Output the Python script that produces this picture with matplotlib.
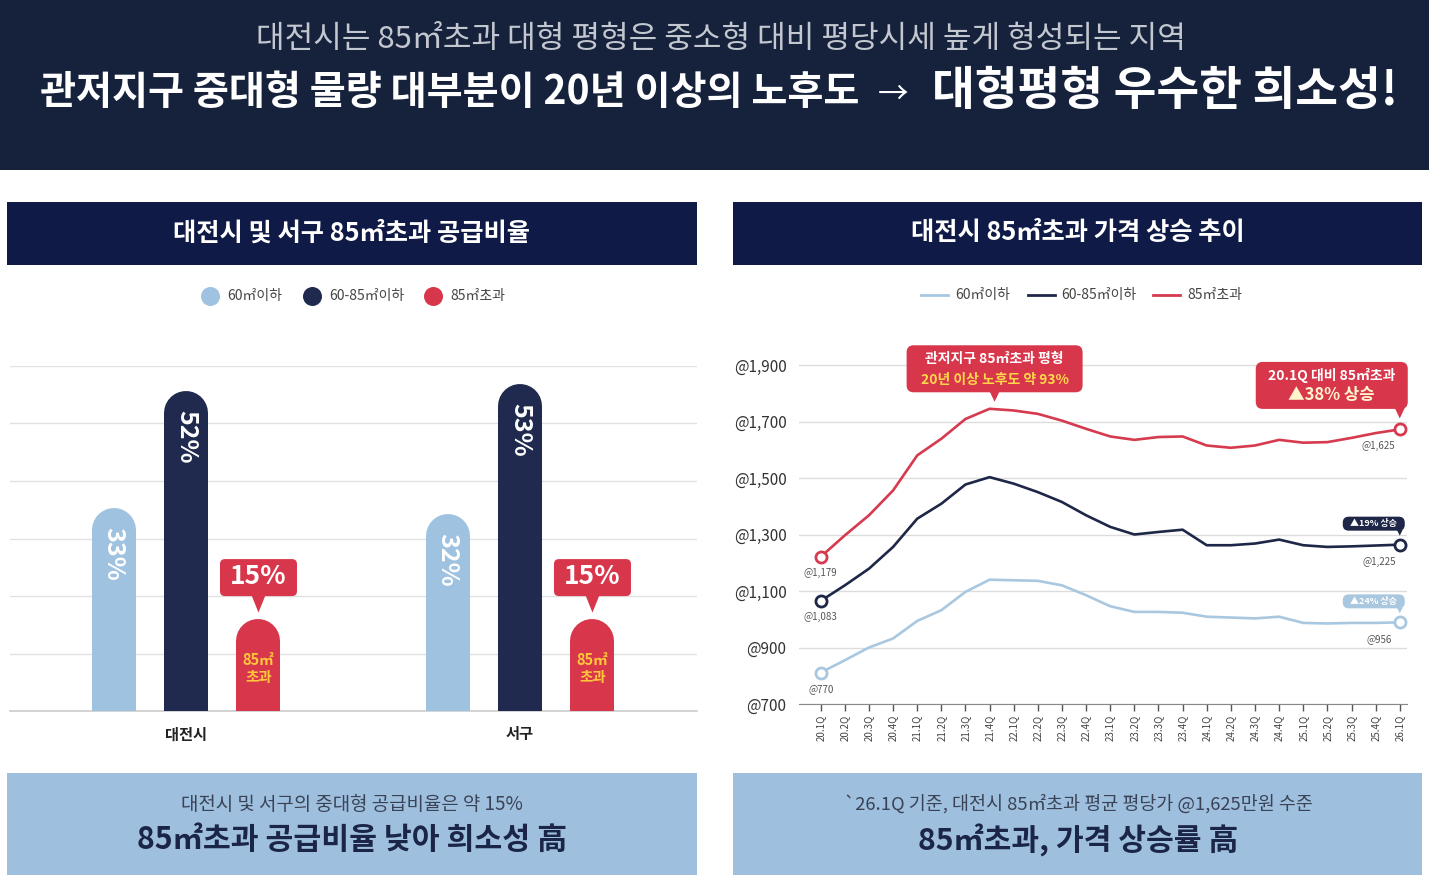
import numpy as np
import matplotlib
matplotlib.use('Agg')
import matplotlib.pyplot as plt
from matplotlib.patches import Rectangle, FancyBboxPatch, Polygon

plt.rcParams['font.family'] = ['Noto Sans CJK KR', 'DejaVu Sans']

# ---------------- data ----------------
regions = ['대전시', '서구']
share_names = ['60㎡이하', '60-85㎡이하', '85㎡초과']
share_small = [33, 32]
share_mid = [52, 53]
share_large = [15, 15]

quarters = ['20.1Q', '20.2Q', '20.3Q', '20.4Q', '21.1Q', '21.2Q', '21.3Q', '21.4Q',
            '22.1Q', '22.2Q', '22.3Q', '22.4Q', '23.1Q', '23.2Q', '23.3Q', '23.4Q',
            '24.1Q', '24.2Q', '24.3Q', '24.4Q', '25.1Q', '25.2Q', '25.3Q', '25.4Q', '26.1Q']
price_small = [811, 855, 900, 932, 994, 1032, 1097, 1140, 1138, 1136, 1120, 1085, 1046,
               1026, 1026, 1023, 1009, 1006, 1003, 1009, 987, 985, 987, 987, 989]
price_mid = [1065, 1120, 1179, 1256, 1356, 1409, 1477, 1503, 1480, 1450, 1415, 1368, 1327,
             1300, 1309, 1317, 1262, 1262, 1268, 1282, 1262, 1256, 1258, 1261, 1264]
price_large = [1221, 1297, 1368, 1456, 1580, 1639, 1709, 1745, 1739, 1727, 1703, 1674, 1647,
               1635, 1645, 1647, 1615, 1607, 1615, 1635, 1625, 1627, 1642, 1659, 1672]
start_labels = ['@770', '@1,083', '@1,179']
end_labels = ['@956', '@1,225', '@1,625']
rise_labels = ['▲24% 상승', '▲19% 상승', '▲38% 상승']
price_ticks = [700, 900, 1100, 1300, 1500, 1700, 1900]
price_tick_labels = ['@700', '@900', '@1,100', '@1,300', '@1,500', '@1,700', '@1,900']

# ---------------- style ----------------
C_LIGHT = '#9fc2e0'
C_NAVY = '#1f2a4e'
C_RED = '#d8364b'
C_LINE_LIGHT = '#a9c8e0'
C_LINE_NAVY = '#1e2747'
C_LINE_RED = '#d63a4e'
C_BANNER = '#16223c'
C_HEAD = '#0f1a46'
C_FOOT = '#9ebfdd'

W, H = 1429, 885
fig = plt.figure(figsize=(W / 100, H / 100), dpi=100)


def rect(x0, y0, x1, y1):
    return [x0 / W, 1 - y1 / H, (x1 - x0) / W, (y1 - y0) / H]


def to_px(ax, x, y):
    dx, dy = ax.transData.transform((x, y))
    return dx, H - dy


# ---------------- background ----------------
bg = fig.add_axes([0, 0, 1, 1])
bg.set_xlim(0, W); bg.set_ylim(H, 0); bg.axis('off')
bg.add_patch(Rectangle((0, 0), W, 170, color=C_BANNER, lw=0))
bg.add_patch(Rectangle((7, 202), 690, 63, color=C_HEAD, lw=0))
bg.add_patch(Rectangle((733, 202), 689, 63, color=C_HEAD, lw=0))
bg.add_patch(Rectangle((7, 773), 690, 102, color=C_FOOT, lw=0))
bg.add_patch(Rectangle((733, 773), 689, 102, color=C_FOOT, lw=0))

bg.text(721, 40, '대전시는 85㎡초과 대형 평형은 중소형 대비 평당시세 높게 형성되는 지역',
        ha='center', va='center', fontsize=22.4, color='#c3c7cf', fontweight='light')
bg.text(40, 93, '관저지구 중대형 물량 대부분이 20년 이상의 노후도', ha='left', va='center',
        fontsize=28.2, color='white', fontweight='bold')
bg.text(893, 95, '→', ha='center', va='center', fontsize=22, color='white')
bg.text(1398, 91, '대형평형 우수한 희소성!', ha='right', va='center',
        fontsize=33.5, color='white', fontweight='bold')

bg.text(352, 233, '대전시 및 서구 85㎡초과 공급비율', ha='center', va='center',
        fontsize=18.2, color='white', fontweight='bold')
bg.text(1078, 233, '대전시 85㎡초과 가격 상승 추이', ha='center', va='center',
        fontsize=18.2, color='white', fontweight='bold')

bg.text(352, 804, '대전시 및 서구의 중대형 공급비율은 약 15%', ha='center', va='center',
        fontsize=13.6, color='#3a4356')
bg.text(352, 840, '85㎡초과 공급비율 낮아 희소성 高', ha='center', va='center',
        fontsize=21.8, color='#1b2548', fontweight='bold')
bg.text(1078, 804, '`26.1Q 기준, 대전시 85㎡초과 평균 평당가 @1,625만원 수준', ha='center',
        va='center', fontsize=13.3, color='#3a4356')
bg.text(1078, 840, '85㎡초과, 가격 상승률 高', ha='center', va='center',
        fontsize=21.7, color='#1b2548', fontweight='bold')

# legends
for cx, tx, name, c in zip([210, 312, 433], [227, 329, 450], share_names,
                           [C_LIGHT, C_NAVY, C_RED]):
    bg.scatter([cx], [296], s=(19 * 0.72) ** 2, color=c, lw=0)
    bg.text(tx, 296, name, ha='left', va='center', fontsize=10, color='#444444')
for lx, tx, name, c in zip([921, 1028, 1153], [955, 1061, 1187], share_names,
                           [C_LINE_LIGHT, C_LINE_NAVY, C_LINE_RED]):
    bg.plot([lx, lx + 27], [295, 295], color=c, lw=2)
    bg.text(tx, 295, name, ha='left', va='center', fontsize=10, color='#444444')

# ---------------- bar chart ----------------
axb = fig.add_axes(rect(10, 366, 697, 711))
axb.set_facecolor('none')
ymax = 56
axb.set_ylim(0, ymax)
axb.set_xlim(-0.527, 1.530)
axb.set_yticks(np.linspace(0, ymax, 7))
axb.set_yticklabels([])
axb.grid(axis='y', color='#e1e1e1', lw=1)
axb.set_axisbelow(True)
for s in ['top', 'right', 'left']:
    axb.spines[s].set_visible(False)
axb.spines['bottom'].set_color('#cccccc')
axb.spines['bottom'].set_linewidth(1.2)
axb.tick_params(axis='y', length=0)
axb.tick_params(axis='x', length=0, pad=11)
axb.set_xticks(range(len(regions)))
axb.set_xticklabels(regions, fontsize=11, fontweight='bold', color='#222222')

bar_px = 44
px_per_unit = 345 / ymax
r_data = (bar_px / 2) / px_per_unit
offsets = [-0.217, 0, 0.217]
bar_series = [share_small, share_mid, share_large]
bar_colors = [C_LIGHT, C_NAVY, C_RED]
for k, (vals, c) in enumerate(zip(bar_series, bar_colors)):
    for i, v in enumerate(vals):
        x = i + offsets[k]
        axb.plot([x, x], [-10, v - r_data], color=c, lw=bar_px * 0.72,
                 solid_capstyle='round', zorder=3)
        if k < 2:
            axb.annotate(f'{v}%', (x, v), xytext=(0, -19 * 0.72), textcoords='offset points',
                         rotation=270, ha='center', va='top', color='white',
                         fontsize=18, fontweight='bold', zorder=4)
        else:
            axb.annotate('85㎡\n초과', (x, v), xytext=(0, -50 * 0.72),
                         textcoords='offset points', ha='center', va='center',
                         color='#ffc83a', fontsize=10.5, fontweight='bold',
                         linespacing=1.05, zorder=4)

# ---------------- line chart ----------------
y_top_px = 704 - (1990 - 700) * 0.2825
axl = fig.add_axes(rect(799, y_top_px, 1407, 704))
axl.set_facecolor('none')
axl.set_ylim(700, 1990)
axl.set_xlim(-0.9, 24.3)
axl.set_yticks(price_ticks)
axl.set_yticklabels(price_tick_labels)
axl.tick_params(axis='y', length=0, pad=9, labelsize=11, labelcolor='#333333')
axl.set_xticks(range(len(quarters)))
axl.set_xticklabels(quarters, rotation=90, fontsize=7, color='#444444')
axl.tick_params(axis='x', length=5, width=1, color='#555555', pad=3)
axl.grid(axis='y', color='#dcdcdc', lw=1)
axl.set_axisbelow(True)
for s in ['top', 'right', 'left']:
    axl.spines[s].set_visible(False)
axl.spines['bottom'].set_color('#888888')

xs = np.arange(len(quarters))
line_series = [price_small, price_mid, price_large]
line_colors = [C_LINE_LIGHT, C_LINE_NAVY, C_LINE_RED]
for vals, c, sl, el in zip(line_series, line_colors, start_labels, end_labels):
    axl.plot(xs, vals, color=c, lw=1.9, zorder=3, solid_joinstyle='round')
    axl.plot([xs[0], xs[-1]], [vals[0], vals[-1]], 'o', mfc='white', mec=c, ms=8,
             mew=2, zorder=4, clip_on=False)
    axl.annotate(sl, (xs[0], vals[0]), xytext=(0, -16 * 0.72), textcoords='offset points',
                 ha='center', va='center', fontsize=7, color='#555555')
    axl.annotate(el, (xs[-1], vals[-1]), xytext=(-21 * 0.72, -17 * 0.72),
                 textcoords='offset points', ha='center', va='center', fontsize=7,
                 color='#555555')

# ---------------- overlay callouts ----------------
top = fig.add_axes([0, 0, 1, 1])
top.set_facecolor('none')
top.set_xlim(0, W); top.set_ylim(H, 0); top.axis('off')


def bubble(cx, cy, w, h, tip_x, tip_y, color, rounding=6, tw=6):
    top.add_patch(FancyBboxPatch((cx - w / 2, cy - h / 2), w, h,
                                 boxstyle=f'round,pad=0,rounding_size={rounding}',
                                 fc=color, ec='none'))
    top.add_patch(Polygon([(tip_x - tw, cy + h / 2 - 1), (tip_x + tw, cy + h / 2 - 1),
                           (tip_x, tip_y)], closed=True, fc=color, ec='none'))


# 15% bubbles above red bars
for i, v in enumerate(share_large):
    px, py = to_px(axb, i + offsets[2], v)
    bubble(px, py - 41, 77, 37, px, py - 6, C_RED, rounding=5, tw=7)
    top.text(px, py - 42, f'{v}%', ha='center', va='center', fontsize=19,
             fontweight='bold', color='white')

# peak callout
px, py = to_px(axl, 7, price_large[7])
bx, by = px + 5, py - 40
bubble(bx, by, 176, 47, bx, py - 7, C_RED, rounding=7, tw=5)
top.text(bx, by - 10, '관저지구 85㎡초과 평형', ha='center', va='center', fontsize=10,
         fontweight='bold', color='white')
top.text(bx, by + 11, '20년 이상 노후도 약 93%', ha='center', va='center', fontsize=10,
         fontweight='bold', color='#ffd84a')

# end callout for 85㎡초과
px, py = to_px(axl, xs[-1], price_large[-1])
bx, by = px - 68, py - 44
bubble(bx, by, 152, 47, px, py - 11, C_RED, rounding=7, tw=5)
top.text(bx, by - 10, '20.1Q 대비 85㎡초과', ha='center', va='center', fontsize=10,
         fontweight='bold', color='white')
top.text(bx, by + 10, rise_labels[2], ha='center', va='center', fontsize=12,
         fontweight='bold', color='#fff4cc')

# small badges
for vals, c, lab in zip(line_series[:2], [C_LINE_LIGHT, C_LINE_NAVY], rise_labels[:2]):
    px, py = to_px(axl, xs[-1], vals[-1])
    bx, by = px - 26, py - 21
    bubble(bx, by, 62, 14, px, py - 9, c, rounding=6, tw=3)
    top.text(bx, by, lab, ha='center', va='center', fontsize=6.5, fontweight='bold',
             color='white')

fig.savefig('out.png', dpi=100)
